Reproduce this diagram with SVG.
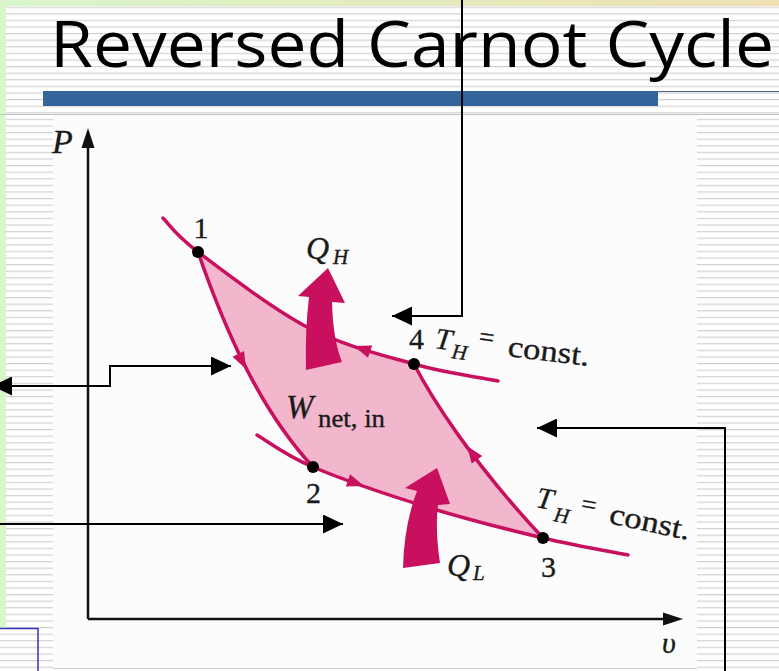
<svg xmlns="http://www.w3.org/2000/svg" width="779" height="671" viewBox="0 0 779 671">
<defs>
<style>
.ser{font-family:"Liberation Serif","DejaVu Serif",serif;fill:#1a1a1a;stroke:#1a1a1a;stroke-width:0.35}
.it{font-style:italic}
.curve{fill:none;stroke:#C8105E;stroke-width:3.5;stroke-linecap:round}
.conn{fill:none;stroke:#000;stroke-width:2}
.axis{fill:none;stroke:#111;stroke-width:2.5}
.dot{fill:#000}
.mag{fill:#C8105E}
</style>
<pattern id="stripes" width="10" height="6.6" patternUnits="userSpaceOnUse">
<rect width="10" height="6.6" fill="#fff"/>
<rect y="0" width="10" height="1.2" fill="#d2d2d2"/>
</pattern>
<linearGradient id="topg" x1="0" x2="1" y1="0" y2="0">
<stop offset="0" stop-color="#D8F6CA"/><stop offset="1" stop-color="#EFE0B2"/>
</linearGradient>
<marker id="ah" viewBox="0 0 20 19" markerWidth="20" markerHeight="19" refX="20" refY="9.5" orient="auto-start-reverse" markerUnits="userSpaceOnUse">
<path d="M0,0 L20,9.5 L0,19 Z" fill="#000"/>
</marker>
<path id="tri" d="M0,0 L-17,-6.5 L-17,6.5 Z"/>
</defs>

<g id="background">
<rect width="779" height="671" fill="url(#stripes)"/>
<rect x="0" y="0" width="779" height="6" fill="url(#topg)"/>
<rect x="0" y="0" width="6" height="628" fill="#D8F6CA"/>
<line x1="0" y1="114.5" x2="779" y2="114.5" stroke="#c4c4c4"/>
<rect x="53" y="115" width="644" height="553" fill="#fcfcfc"/>
<line x1="53" y1="668.5" x2="697" y2="668.5" stroke="#cfcfcf"/>
<rect x="-10" y="628.5" width="48" height="60" fill="url(#stripes)" stroke="#3434B4" stroke-width="1.5"/>
</g>

<g id="title">
<text x="50" y="67" font-family="'Open Sans','Noto Sans',sans-serif" font-size="64" fill="#000" textLength="724" lengthAdjust="spacingAndGlyphs">Reversed Carnot Cycle</text>
<rect x="43" y="91" width="615" height="15" fill="#33659A"/>
<line x1="658" y1="91.5" x2="779" y2="91.5" stroke="#55667a" stroke-width="1"/>
</g>

<g id="axes">
<line class="axis" x1="88" y1="619" x2="88" y2="145"/>
<path d="M88,128 L94.5,148 L81.5,148 Z" fill="#111"/>
<line class="axis" x1="88" y1="619" x2="668" y2="619"/>
<path d="M683,619 L663,612.5 L663,625.5 Z" fill="#111"/>
<text class="ser it" x="52" y="153" font-size="34">P</text>
<text class="ser it" x="662" y="653" font-size="30">υ</text>
</g>

<g id="cycle-area">
<path d="M198,252 C222,270.2 271,308.3 307,327 C343,345.7 382.2,355 414,364 C430,395 470,460 543,538 C509.5,530 465.3,518.8 427,507 C388.7,495.2 341.3,479 313,467 C260,410 225,330 198,252 Z" fill="#F2B6CD"/>
</g>

<g id="isotherm-high">
<path class="curve" d="M163,218 C168.8,223.7 174,233.8 198,252 C222,270.2 271,308.3 307,327 C343,345.7 382.2,355 414,364 C445.8,373 484,378.2 498,381"/>
<use href="#tri" class="mag" transform="translate(354,346) rotate(199)"/>
</g>
<g id="isotherm-low">
<path class="curve" d="M257,435 C266.3,440.3 284.7,455 313,467 C341.3,479 388.7,495.2 427,507 C465.3,518.8 509.5,530 543,538 C576.5,546 613.8,552.2 628,555"/>
<use href="#tri" class="mag" transform="translate(364,486) rotate(19)"/>
</g>
<g id="adiabat-12">
<path class="curve" d="M198,252 C225,330 260,410 313,467"/>
<use href="#tri" class="mag" transform="translate(246,369) rotate(63)"/>
</g>
<g id="adiabat-34">
<path class="curve" d="M414,364 C430,395 470,460 543,538"/>
<use href="#tri" class="mag" transform="translate(467,446) rotate(234)"/>
</g>

<g id="QH">
<path class="mag" d="M328,268 L298,296 L309,297 Q305,330 306,370 L342,362 Q333,340 332,302 L345,303 Z"/>
<text class="ser it" x="306" y="259" font-size="32">Q</text>
<text class="ser it" x="333" y="264" font-size="21">H</text>
</g>
<g id="QL">
<path class="mag" d="M437,468 L405,488 L417,491 Q404,525 403,568 L440,563 Q435,530 438,505 L450,504 Z"/>
<text class="ser it" x="447" y="576" font-size="32">Q</text>
<text class="ser it" x="473" y="580" font-size="21">L</text>
</g>

<g id="Wnet">
<text class="ser it" x="286" y="418" font-size="33">W</text>
<text class="ser" x="318" y="427" font-size="26" textLength="67" lengthAdjust="spacingAndGlyphs">net, in</text>
</g>

<g id="point1"><circle class="dot" cx="198" cy="252" r="6"/><text class="ser" x="193.5" y="238" font-size="30">1</text></g>
<g id="point2"><circle class="dot" cx="313" cy="467" r="6"/><text class="ser" x="306" y="503" font-size="30">2</text></g>
<g id="point3"><circle class="dot" cx="543" cy="538" r="6"/><text class="ser" x="541" y="577" font-size="30">3</text></g>
<g id="point4"><circle class="dot" cx="414" cy="364" r="6"/><text class="ser" x="409" y="349" font-size="30">4</text></g>

<g id="label-TH-upper">
<text class="ser it" x="434" y="348" font-size="30" transform="rotate(8 434 348)">T</text>
<text class="ser it" x="451" y="358" font-size="21" transform="rotate(8 451 358)">H</text>
<text class="ser" x="478" y="345" font-size="27" transform="rotate(8 478 345)">=</text>
<text class="ser" x="507" y="356" font-size="30" textLength="82" lengthAdjust="spacingAndGlyphs" transform="rotate(7 507 356)">const.</text>
</g>
<g id="label-TH-lower">
<text class="ser it" x="535" y="507" font-size="30" transform="rotate(10 535 507)">T</text>
<text class="ser it" x="553" y="521" font-size="21" transform="rotate(10 553 521)">H</text>
<text class="ser" x="580" y="512" font-size="27" transform="rotate(10 580 512)">=</text>
<text class="ser" x="608" y="523" font-size="30" textLength="82" lengthAdjust="spacingAndGlyphs" transform="rotate(12 608 523)">const.</text>
</g>

<g id="connectors">
<path class="conn" d="M462,-5 V316 H392" marker-end="url(#ah)"/>
<path class="conn" d="M-8,386 H110 V366 H231" marker-start="url(#ah)" marker-end="url(#ah)"/>
<path class="conn" d="M-5,524 H343" marker-end="url(#ah)"/>
<path class="conn" d="M725,676 V428 H537" marker-end="url(#ah)"/>
</g>
</svg>
